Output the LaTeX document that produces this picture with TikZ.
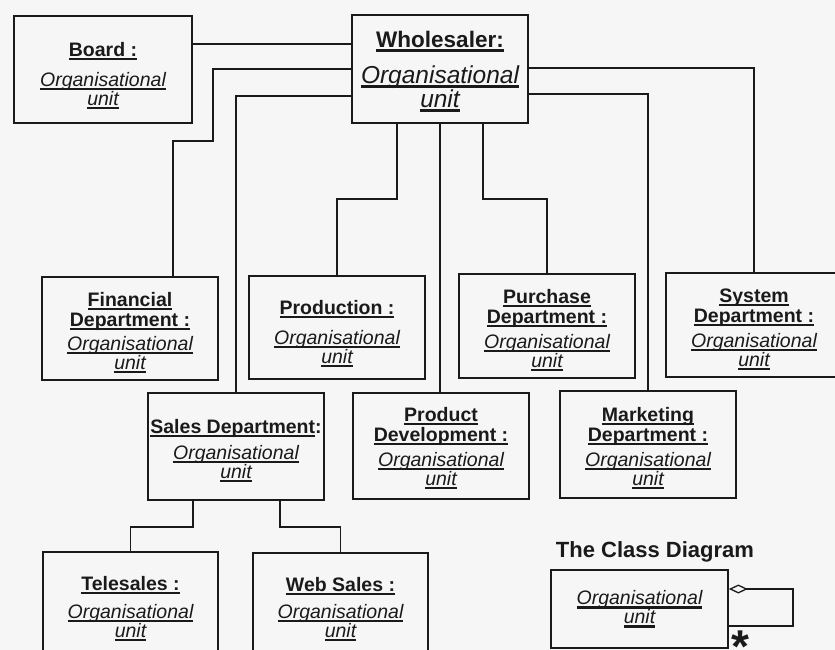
\documentclass[tikz,border=0pt]{standalone}
\usepackage{fontspec}
\setmainfont{Liberation Sans}
\usetikzlibrary{arrows.meta}

\definecolor{paper}{HTML}{F6F6F6}
\definecolor{ink}{HTML}{1A1A1A}

% underlined text: rule as wide as the text, a little below the baseline
\newcommand\ulx[1]{\setbox0=\hbox{#1}\leavevmode\rlap{\rule[-0.2em]{\wd0}{0.11em}}\box0}
\newcommand\ttl[1]{\ulx{\bfseries #1}}
\newcommand\ou{\ulx{\itshape Organisational}\\\ulx{\itshape unit}}
\newcommand\lift{\rule{0pt}{22pt}}

\tikzset{
  orgbox/.style={draw=ink, line width=1.7pt, fill=paper, align=center,
    inner sep=0pt, minimum width=176pt, minimum height=104pt,
    font=\fontsize{19.5}{19}\selectfont, text=ink},
  conn/.style={draw=ink, line width=1.5pt, line join=miter},
}

\begin{document}
\begin{tikzpicture}[x=1pt, y=-1pt]
\path[use as bounding box, fill=paper] (0,0) rectangle (835,650);
\clip (0,0) rectangle (835,650);

% top level
\node[orgbox, minimum width=178pt, minimum height=107pt] (board) at (103,69.5)
  {\rule{0pt}{26pt}\ttl{Board :}\\[11pt]\ou};
\node[orgbox, minimum height=108pt, font=\fontsize{22.5}{22}\selectfont] (whole) at (440,69)
  {\rule{0pt}{21pt}\ttl{Wholesaler:}\\[13pt]\ulx{\fontsize{24.5}{22}\selectfont\itshape Organisational}\\\ulx{\fontsize{24.5}{22}\selectfont\itshape unit}};

% departments
\node[orgbox, minimum height=103pt] (fin) at (130,328.5)
  {\lift\ttl{Financial}\\[1pt]\ttl{Department :}\\[5pt]\ou};
\node[orgbox, minimum height=103pt] (prod) at (337,327.5)
  {\rule{0pt}{26pt}\ttl{Production :}\\[11pt]\ou};
\node[orgbox] (purch) at (547,326)
  {\lift\ttl{Purchase}\\[1pt]\ttl{Department :}\\[6pt]\ou};
\node[orgbox] (sys) at (754,325)
  {\lift\ttl{System}\\[1pt]\ttl{Department :}\\[6pt]\ou};
\node[orgbox, minimum height=107pt] (sales) at (236,446.5)
  {\lift\ttl{Sales Department}{\bfseries :}\\[7pt]\ou};
\node[orgbox, minimum height=106pt] (pdev) at (441,446)
  {\rule{0pt}{19pt}\ttl{Product}\\[1pt]\ttl{Development :}\\[6pt]\ou};
\node[orgbox, minimum height=107pt] (mkt) at (648,444.5)
  {\lift\ttl{Marketing}\\[1pt]\ttl{Department :}\\[6pt]\ou};

% sales channels
\node[orgbox, minimum width=175pt, minimum height=106pt] (tele) at (130.5,605)
  {\lift\ttl{Telesales :}\\[9pt]\ou};
\node[orgbox, minimum width=175pt, minimum height=106pt] (web) at (340.5,606)
  {\rule{0pt}{20pt}\ttl{Web Sales :}\\[8pt]\ou};

% links from the wholesaler
\draw[conn] (board.east |- 0,44) -- (whole.west |- 0,44);
\draw[conn] (whole.west |- 0,69) -| (213,141) -| ([xshift=43pt]fin.north);
\draw[conn] (whole.west |- 0,96) -| (sales.north);
\draw[conn] ([xshift=-43pt]whole.south) |- (prod.north |- 0,199) -- (prod.north);
\draw[conn] (whole.south) -- (whole.south |- pdev.north);
\draw[conn] ([xshift=43pt]whole.south) |- (purch.north |- 0,199) -- (purch.north);
\draw[conn] (whole.east |- 0,94) -| (mkt.north);
\draw[conn] (whole.east |- 0,68) -| (sys.north);
\draw[conn] ([xshift=-43pt]sales.south) |- (tele.north |- 0,527) -- (tele.north);
\draw[conn] ([xshift=44pt]sales.south) |- (web.north |- 0,527) -- (web.north);

% class diagram
\node[font=\fontsize{22}{22}\selectfont\bfseries, text=ink, inner sep=0pt] (cdtitle) at (655,552) {The Class Diagram};
\node[orgbox, minimum width=177pt, minimum height=78pt] (cls) at (639.5,609) {\ou};
\coordinate (loopcorner) at (793,589);
\draw[conn, {Diamond[open,length=19pt,width=9pt,line width=1.3pt]}-]
  (cls.east |- loopcorner) -- (loopcorner) |- (cls.east |- 0,626);
\node[font=\fontsize{46}{46}\selectfont\bfseries, text=ink, inner sep=0pt, anchor=base] (many) at (740,662) {*};
\end{tikzpicture}
\end{document}
